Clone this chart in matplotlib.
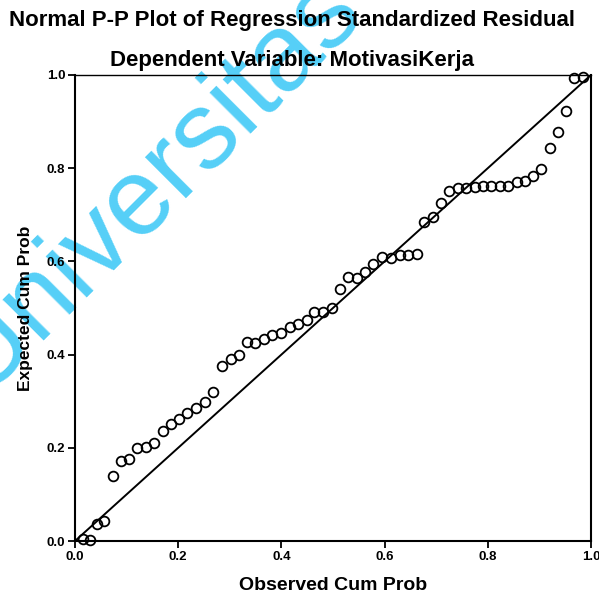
import matplotlib
matplotlib.use('Agg')
import matplotlib.pyplot as plt

# observed vs expected cumulative probability
observed = [0.015, 0.030, 0.042, 0.057, 0.074, 0.089, 0.105, 0.121, 0.138, 0.154,
            0.171, 0.187, 0.202, 0.218, 0.234, 0.251, 0.268, 0.284, 0.302, 0.317,
            0.333, 0.349, 0.366, 0.382, 0.400, 0.417, 0.433, 0.450, 0.464, 0.481,
            0.499, 0.514, 0.530, 0.546, 0.562, 0.578, 0.595, 0.612, 0.629, 0.645,
            0.662, 0.676, 0.693, 0.709, 0.725, 0.742, 0.758, 0.775, 0.791, 0.807,
            0.824, 0.840, 0.856, 0.872, 0.888, 0.904, 0.920, 0.936, 0.952, 0.967,
            0.984]
expected = [0.004, 0.002, 0.036, 0.043, 0.139, 0.171, 0.176, 0.200, 0.201, 0.211,
            0.236, 0.250, 0.262, 0.275, 0.285, 0.298, 0.320, 0.376, 0.391, 0.399,
            0.426, 0.424, 0.434, 0.441, 0.446, 0.460, 0.466, 0.474, 0.491, 0.491,
            0.501, 0.541, 0.566, 0.565, 0.577, 0.594, 0.609, 0.608, 0.614, 0.614,
            0.616, 0.685, 0.696, 0.726, 0.751, 0.757, 0.758, 0.760, 0.762, 0.762,
            0.762, 0.762, 0.771, 0.773, 0.783, 0.798, 0.844, 0.878, 0.922, 0.993,
            0.996]
ticks = [0.0, 0.2, 0.4, 0.6, 0.8, 1.0]
tick_labels = ['0.0', '0.2', '0.4', '0.6', '0.8', '1.0']

plt.rcParams['font.family'] = ['Liberation Sans', 'DejaVu Sans']

fig = plt.figure(figsize=(5.99, 5.97), dpi=100)
ax = fig.add_axes([0.1252, 0.0938, 0.8614, 0.7806])
ax.set_facecolor('none')

# watermark behind everything
fig.text(0.255, 0.693, 'Universitas', rotation=45, rotation_mode='anchor',
         ha='center', va='center', fontsize=79, color='#55cff7', zorder=-5)

ax.plot([0, 1], [0, 1], color='black', lw=1.4)
ax.plot(observed, expected, 'o', mfc='none', mec='black', ms=7, mew=1.3,
        clip_on=False)

ax.set_xlim(0, 1)
ax.set_ylim(0, 1)
ax.set_xticks(ticks)
ax.set_xticklabels(tick_labels, fontweight='bold', fontsize=9.5)
ax.set_yticks(ticks)
ax.set_yticklabels(tick_labels, fontweight='bold', fontsize=9.5)
ax.tick_params(direction='out', length=5, width=1.3, pad=2)
for s in ax.spines.values():
    s.set_linewidth(1.5)
ax.spines['top'].set_linewidth(1.0)

ax.set_xlabel('Observed Cum Prob', fontweight='bold', fontsize=14, labelpad=10)
ax.set_ylabel('Expected Cum Prob', fontweight='bold', fontsize=12.5, labelpad=10)

fig.text(0.487, 0.965, 'Normal P-P Plot of Regression Standardized Residual',
         ha='center', va='center', fontsize=16, fontweight='bold')
fig.text(0.487, 0.899, 'Dependent Variable: MotivasiKerja',
         ha='center', va='center', fontsize=16, fontweight='bold')

fig.savefig('out.png', dpi=100)
